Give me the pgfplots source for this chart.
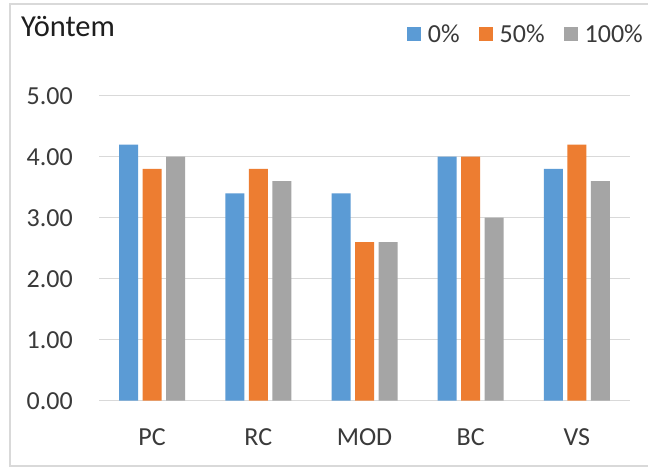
\documentclass[border=0pt]{standalone}
\usepackage{pgfplots}
\pgfplotsset{compat=1.18}
\usepackage{fontspec}
\setmainfont{Carlito}

\definecolor{serA}{HTML}{5B9BD5}
\definecolor{serB}{HTML}{ED7D31}
\definecolor{serC}{HTML}{A5A5A5}
\definecolor{gridc}{HTML}{D9D9D9}
\definecolor{txt}{HTML}{3A3A3A}
\definecolor{titlec}{HTML}{1E1E1E}

\pgfplotsset{
  sq/.style={legend image code/.code={\fill[##1,draw=none] (0pt,-7pt) rectangle (14pt,7pt);}},
}

\begin{document}
\begin{tikzpicture}[x=1pt,y=1pt]
\path[use as bounding box] (0,0) rectangle (648,468);
\fill[white] (0,0) rectangle (648,468);
% chart frame
\draw[gridc, line width=2pt] (652,464) -- (10,464) -- (10,2) -- (652,2);

\begin{axis}[
  at={(99pt,67.3pt)}, anchor=south west,
  scale only axis, width=531pt, height=305pt,
  xmin=-0.5, xmax=4.5, ymin=0, ymax=5,
  xtick={0,1,2,3,4}, xticklabels={PC,RC,MOD,BC,VS},
  ytick={0,1,2,3,4,5},
  ymajorgrids, major grid style={gridc, line width=1.5pt},
  axis line style={draw=none},
  major tick length=0pt, tick style={draw=none},
  ybar=4.5pt, bar width=19pt,
  /pgf/number format/assume math mode=true,
  y tick label style={/pgf/number format/fixed, /pgf/number format/fixed zerofill,
    /pgf/number format/precision=2, anchor=east, inner sep=0pt, xshift=-26pt,
    font=\fontsize{26}{30}\selectfont, text=txt},
  x tick label style={anchor=north, inner sep=0pt, yshift=-27.5pt,
    font=\fontsize{26}{30}\selectfont, text=txt},
  legend columns=3,
  legend style={at={(0.580,1.2023)}, anchor=west, draw=none, fill=none,
    inner sep=0pt, outer sep=0pt,
    font=\fontsize{26}{30}\selectfont, text=txt,
    nodes={inner sep=0pt},
    /tikz/every odd column/.append style={column sep=7pt},
    /tikz/every even column/.append style={column sep=19pt}},
]
\addplot[fill=serA, draw=none, sq] coordinates {(0,4.2) (1,3.4) (2,3.4) (3,4.0) (4,3.8)};
\addlegendentry{0\%}
\addplot[fill=serB, draw=none, sq] coordinates {(0,3.8) (1,3.8) (2,2.6) (3,4.0) (4,4.2)};
\addlegendentry{50\%}
\addplot[fill=serC, draw=none, sq] coordinates {(0,4.0) (1,3.6) (2,2.6) (3,3.0) (4,3.6)};
\addlegendentry{100\%}
\end{axis}

\node[anchor=base west, inner sep=0pt, font=\fontsize{30.5}{36}\selectfont, text=titlec] at (21,431) {Yöntem};
\end{tikzpicture}
\end{document}
